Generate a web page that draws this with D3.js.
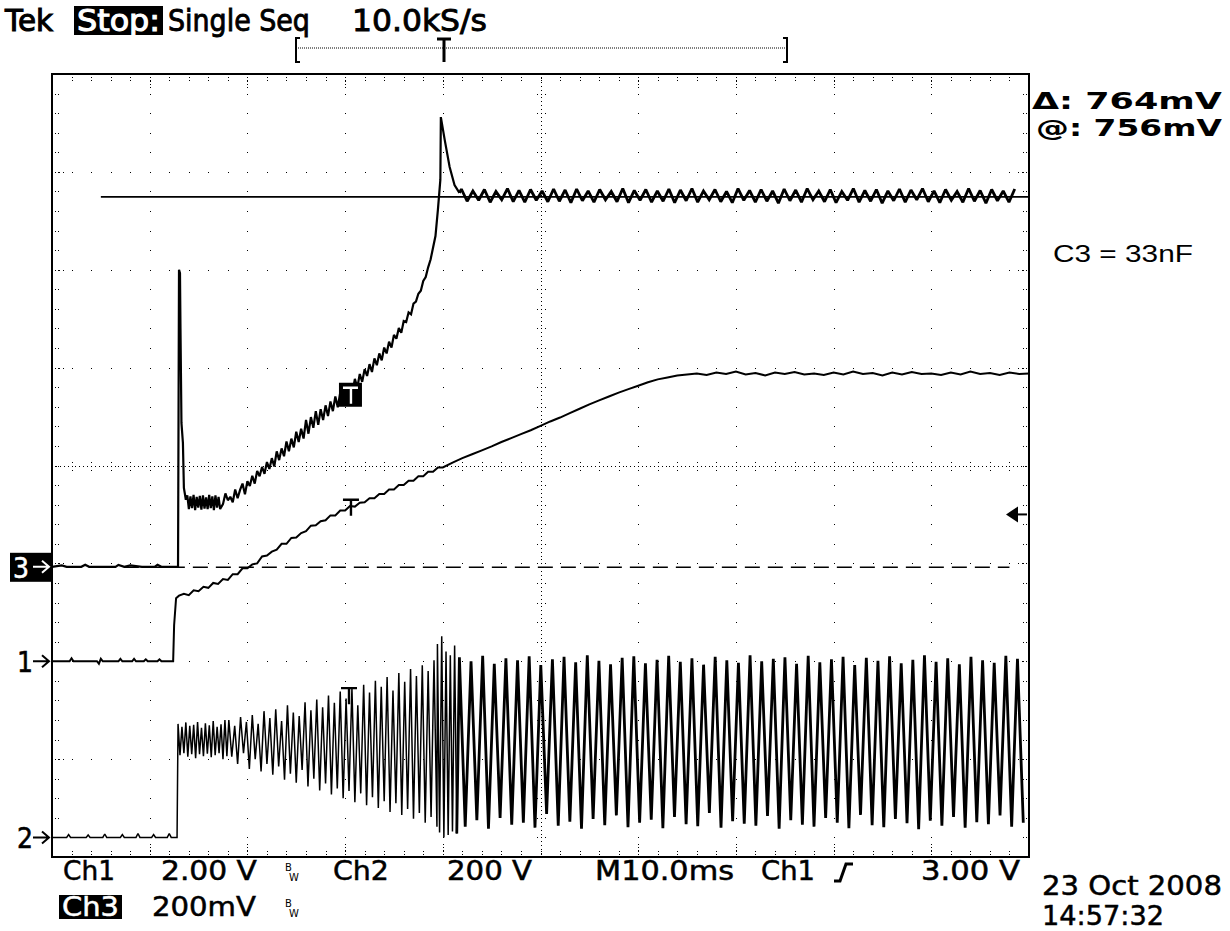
<!DOCTYPE html>
<html><head><meta charset="utf-8">
<script src="https://cdn.jsdelivr.net/npm/d3@7"></script>
<style>html,body{margin:0;padding:0;background:#fff;}svg{display:block;}</style>
</head><body>
<svg id="c" width="1230" height="931"></svg>
<script>
// ---------------- DATA ----------------
const timeDomainMs = [0, 100];          // 10 divisions x 10 ms
const divDomain = [-4, 4];              // 8 vertical divisions
const voltsPerDiv = {ch1: 2, ch2: 200, ch3: 200}; // V, V, mV
const groundDiv = {ch1: -2.0, ch2: -3.80, ch3: -1.035};
const triggerLevelV = 3.0;
const cursorLevelsMv = [756, -1];

// Ch1 (V) [ms, V]
const ch1 = [[0,0],[1.8,0],[2,0.06],[2.2,0],[4.6,0],[4.8,-0.05],[5,0.05],[5.2,0],[6.8,0],[7,0.05],[7.2,0],
 [8.2,0],[8.4,0.05],[8.6,0],[9.4,0],[9.6,0.04],[9.8,0],[10.8,0],[11,0.04],[11.2,0],[12.4,0],
 [12.5,0.74],[12.7,1.29],[13,1.34],[13.5,1.38],[14,1.35],[14.5,1.45],[15,1.43],[15.5,1.52],[16,1.5],[16.5,1.6],
 [17,1.58],[17.5,1.68],[18,1.66],[18.5,1.78],[19,1.78],[19.5,1.9],[20,1.9],[20.5,1.98],[21,2.0],[21.5,2.14],
 [22,2.16],[22.5,2.24],[23,2.28],[23.5,2.4],[24,2.4],[24.5,2.52],[25,2.53],[25.5,2.62],[26,2.66],[26.5,2.77],
 [27,2.78],[27.5,2.86],[28,2.88],[28.5,2.98],[29,2.98],[29.5,3.08],[30,3.08],[30.5,3.17],[31,3.16],[31.5,3.24],
 [32,3.25],[32.5,3.33],[33,3.33],[33.5,3.42],[34,3.42],[34.5,3.51],[35,3.51],[35.5,3.6],[36,3.6],[36.5,3.69],
 [37,3.69],[37.5,3.78],[38,3.78],[38.5,3.87],[39,3.87],[39.5,3.96],[40,3.96],[41,4.06],[42,4.15],[43,4.23],
 [44,4.31],[45,4.39],[46,4.48],[47,4.56],[48,4.64],[49,4.72],[50,4.81],[51,4.9],[52,4.98],[53,5.07],[54,5.16],
 [55,5.25],[56,5.33],[57,5.41],[58,5.49],[59,5.56],[60,5.63],[61,5.7],[62,5.76],[63,5.8],[64,5.84],[65,5.86],
 [66,5.88],[67,5.85],[68,5.9],[69,5.87],[70,5.92],[71,5.86],[72,5.89],[73,5.84],[74,5.9],[75,5.87],[76,5.91],
 [77,5.86],[78,5.88],[79,5.85],[80,5.9],[81,5.86],[82,5.92],[83,5.87],[84,5.89],[85,5.84],[86,5.9],[87,5.86],
 [88,5.91],[89,5.87],[90,5.88],[91,5.85],[92,5.9],[93,5.86],[94,5.92],[95,5.87],[96,5.89],[97,5.85],[98,5.9],
 [99,5.87],[100,5.88]];

// Ch3 (mV) [ms, mV]
const ch3Pre = [[0,0],[1,3],[1.5,0],[3,0],[3.4,4],[3.8,0],[6.5,0],[6.8,4],[7.4,0],[8,3],[9.2,0],[10.5,0],[10.8,4],[11.2,0],[12.9,0],
 [13.0,607],[13.1,600],[13.15,488],[13.25,294],[13.4,253],[13.5,161],[13.7,137]];
const ch3BandStartMs = 13.85, ch3BandStepMs = 0.16;
const ch3BandMv = [146,118,144,120,147,116,143,121,145,117,146,119,142,118,147,120,144,116,146,121,143,118];
const ch3RampStartMs = 17.5, ch3RampStepMs = 0.25;
const ch3RampMv = [128,150,136,
 143,132,158,140, 157,170,148,175, 165,186,170,196, 185,204,190,214, 200,222,205,236,
 218,242,226,256, 236,262,244,276, 255,282,262,300, 272,306,284,318, 290,322,300,330,
 308,338,318,348, 326,356,336,366, 346,374,356,384, 366,394,378,404, 390,414,398,426,
 412,436,422,448, 436,460,448,474, 466,488,478,502, 500,520,516,538, 542,558,564,584,
 592,612,628,652, 676,730,791];
const ch3Peak = [[39.8,919],[40.2,872],[40.7,817],[41.2,780],[41.7,764]];
const ch3RippleStartMs = 41.9, ch3RippleStepMs = 0.59;
const ch3RippleMv = [772,747,768,749,771,745,767,750,773,746,769,745,771,749,768,746,772,747,770,744,
 772,748,768,745,771,750,767,746,773,744,769,749,771,745,768,747,772,744,770,748,773,745,768,750,771,746,
 767,744,773,749,769,745,771,747,768,743,772,748,770,745,773,750,768,746,771,744,767,749,773,745,769,747,
 771,743,768,748,772,745,770,750,773,746,768,744,771,749,767,745,773,747,769,743,771,748,768,745,772];

// Ch2 (V)
const ch2Pre = [[0,0],[1.5,0],[1.7,6],[1.9,0],[3.5,0],[3.7,5],[3.9,0],[5.2,0],[5.4,7],[5.6,0],[7,0],[7.2,6],[7.4,0],
 [8.6,0],[8.8,8],[9,0],[10.2,0],[10.4,6],[10.6,0],[11.8,0],[12,8],[12.2,0],[12.8,0]];
const ch2BandStartMs = 12.9, ch2BandStepMs = 0.2;
const ch2BandV = [232,168,226,172,235,165,228,170,230,162,236,170,224,166,233,171,229,164,238,168,226,172,231,160,240,166];
const ch2GrowStartMs = 18.1, ch2GrowStepMs = 0.3;
const ch2GrowV = [240,165,228,150,246,172,236,140,250,160,232,135,258,150,244,128,
 262,145,238,118,270,130,255,112,248,138,276,104,260,120,282,96,
 266,110,290,88,275,100,298,80,284,95,305,72,270,90,312,66,
 296,82,320,60,308,74,328,52,300,70,336,46,318,58,344,38,
 330,50,352,30,340,42,362,22];
const ch2BurstStartMs = 39.45, ch2BurstStepMs = 0.22;
const ch2BurstV = [395,10,411,0,380,5,372,12,392,8];
const ch2SteadyStartMs = 41.7, ch2SteadyStepMs = 0.595;
const ch2SteadyV = [368,22,360,35,371,18,355,40,366,26,362,30,370,20,352,48,364,24,369,32,
 358,18,372,38,361,25,354,45,367,21,370,30,356,36,363,19,371,42,359,27,
 366,23,353,50,369,20,362,33,357,28,372,24,360,44,365,18,368,35,355,26,
 371,22,358,40,364,30,369,19,352,46,367,25,361,21,370,38,356,29,363,17,
 372,34,359,24,366,42,354,20,369,31,362,27,357,45,371,22,365,30];

// trigger markers on traces (ms, channel value)
const traceMarkers = [{ch:"ch1", t:30.6, v:3.3}, {ch:"ch2", t:30.4, v:305}];
const ch3Marker = {t: 30.6, v: 372};

// readout texts
const topLabels = ["Tek", "Stop:", "Single Seq", "10.0kS/s"];
const bottomRow1 = ["Ch1", "2.00 V", "Ch2", "200 V", "M10.0ms", "Ch1", "3.00 V"];
const bottomRow2 = ["Ch3", "200mV"];
const dateLabels = ["23 Oct 2008", "14:57:32"];
const cursorLabels = ["\u0394: 764mV", "@: 756mV"];
const noteLabel = "C3 = 33nF";

// ---------------- DRAW ----------------
const svg = d3.select("#c");
const L = 52, R = 1029, T = 74, B = 857;
const x = d3.scaleLinear().domain(timeDomainMs).range([L, R]);
const yd = d3.scaleLinear().domain(divDomain).range([B, T]);
const ych = ch => v => yd(groundDiv[ch] + v / voltsPerDiv[ch]);
const y1 = ych("ch1"), y2 = ych("ch2"), y3 = ych("ch3");
const yBy = {ch1: y1, ch2: y2, ch3: y3};
const seg = (s, st, vals) => vals.map((v, i) => [s + i * st, v]);

const g = svg.append("g");
// graticule
const minorX = d3.range(0, 100.001, 2), minorY = d3.range(-4, 4.001, 0.2);
const dot = (px, py) => g.append("rect").attr("x", Math.round(px)).attr("y", Math.round(py)).attr("width", 1).attr("height", 1).attr("fill", "#000");
d3.range(10, 100, 10).filter(t => t !== 50).forEach(t => {
  minorY.forEach(v => dot(x(t), yd(v)));
  [3, 7, 10, 13].forEach(o => { dot(x(t), T + o); dot(x(t), B - o); });
});
d3.range(-3, 4, 1).filter(v => v !== 0).forEach(v => {
  minorX.forEach(t => dot(x(t), yd(v)));
  [3, 7, 11].forEach(o => { dot(L + o, yd(v)); dot(R - o, yd(v)); });
});
minorX.forEach(t => { [3, 6].forEach(o => { dot(x(t), T + o); dot(x(t), B - o); }); });
minorY.forEach(v => { [3, 6].forEach(o => { dot(L + o, yd(v)); dot(R - o, yd(v)); }); });
d3.range(0, 100.001, 0.4).forEach(t => dot(x(t), yd(0)));
d3.range(-4, 4.001, 0.04).forEach(v => dot(x(50), yd(v)));
minorX.forEach(t => [-4, 4].forEach(o => dot(x(t), yd(0) + o)));
minorY.forEach(v => [-4, 4].forEach(o => dot(x(50) + o, yd(v))));
g.append("rect").attr("x", L).attr("y", T).attr("width", R - L).attr("height", B - T)
  .attr("fill", "none").attr("stroke", "#000").attr("stroke-width", 2);

// cursors (on ch3)
g.append("line").attr("x1", x(5)).attr("x2", R).attr("y1", y3(cursorLevelsMv[0])).attr("y2", y3(cursorLevelsMv[0]))
  .attr("stroke", "#000").attr("stroke-width", 1.6);
g.append("line").attr("x1", x(5)).attr("x2", x(98)).attr("y1", y3(cursorLevelsMv[1])).attr("y2", y3(cursorLevelsMv[1]))
  .attr("stroke", "#000").attr("stroke-width", 1.6).attr("stroke-dasharray", "15,8");

// traces
const line = (yf) => d3.line().x(d => x(d[0])).y(d => yf(d[1]));
const tr = svg.append("g").attr("fill", "none").attr("stroke", "#000").attr("stroke-linejoin", "miter").attr("stroke-miterlimit", 2);
tr.append("path").attr("d", line(y1)(ch1)).attr("stroke-width", 2);
const ch3All = ch3Pre.concat(seg(ch3BandStartMs, ch3BandStepMs, ch3BandMv), seg(ch3RampStartMs, ch3RampStepMs, ch3RampMv), ch3Peak);
tr.append("path").attr("d", line(y3)(ch3All)).attr("stroke-width", 2.2);
const ch3Rip = [ch3Peak[ch3Peak.length - 1]].concat(seg(ch3RippleStartMs, ch3RippleStepMs, ch3RippleMv));
tr.append("path").attr("d", line(y3)(ch3Rip)).attr("stroke-width", 2.8);
const ch2A = ch2Pre.concat(seg(ch2BandStartMs, ch2BandStepMs, ch2BandV), seg(ch2GrowStartMs, ch2GrowStepMs, ch2GrowV),
  seg(ch2BurstStartMs, ch2BurstStepMs, ch2BurstV));
tr.append("path").attr("d", line(y2)(ch2A)).attr("stroke-width", 1.5);
const ch2S = [ch2A[ch2A.length - 1]].concat(seg(ch2SteadyStartMs, ch2SteadyStepMs, ch2SteadyV));
tr.append("path").attr("d", line(y2)(ch2S)).attr("stroke-width", 2.8);

// T markers on traces
traceMarkers.forEach(m => {
  const px = x(m.t), py = yBy[m.ch](m.v);
  svg.append("path").attr("d", `M${px - 8},${py}L${px + 8},${py}M${px},${py}L${px},${py + 16}`).attr("stroke", "#000").attr("stroke-width", 2.4).attr("fill", "none");
});
{
  const px = x(ch3Marker.t), py = y3(ch3Marker.v);
  svg.append("rect").attr("x", px - 12).attr("y", py - 2).attr("width", 23).attr("height", 24).attr("fill", "#000");
  svg.append("path").attr("d", `M${px - 8},${py + 3}L${px + 7},${py + 3}M${px},${py + 3}L${px},${py + 19}`).attr("stroke", "#fff").attr("stroke-width", 2.4).attr("fill", "none");
}

// ---------------- TEXT ----------------
const TF = "DejaVu Sans, sans-serif";
// fit a text to [x0, x0+w] by horizontal scaling
const txt = (s, px, py, w, size, opt = {}) => {
  const gg = svg.append("g");
  const t = gg.append("text").attr("x", 0).attr("y", 0).attr("font-family", opt.family || TF)
    .attr("font-weight", opt.weight || "normal").attr("font-size", size).attr("fill", opt.fill || "#000").text(s);
  if (opt.sw) t.attr("stroke", opt.fill || "#000").attr("stroke-width", opt.sw);
  const n = t.node().getComputedTextLength() || w;
  gg.attr("transform", `translate(${px},${py}) scale(${w / n},1)`);
  return t;
};

// channel ground markers
const mk = (ch, label, inv) => {
  const yy = yBy[ch](0);
  if (inv) svg.append("rect").attr("x", 10).attr("y", yy - 14).attr("width", 43).attr("height", 29).attr("fill", "#000");
  const col = inv ? "#fff" : "#000";
  txt(label, inv ? 13 : 17, yy + 11, 16, 28, {fill: col, sw: 0.6});
  svg.append("path").attr("d", `M${33},${yy}L${48},${yy}M${42},${yy - 6}L${49},${yy}L${42},${yy + 6}`).attr("stroke", col).attr("stroke-width", 2).attr("fill", "none");
};
mk("ch3", "3", true); mk("ch1", "1", false); mk("ch2", "2", false);
{
  const yy = y1(triggerLevelV);
  svg.append("path").attr("d", `M${1006},${yy}L${1018},${yy - 8}L${1018},${yy + 8}Z`).attr("fill", "#000");
  svg.append("line").attr("x1", 1016).attr("x2", 1027).attr("y1", yy).attr("y2", yy).attr("stroke", "#000").attr("stroke-width", 2);
}

txt(topLabels[0], 5, 31, 48, 30, {sw: 1.1});
svg.append("rect").attr("x", 74).attr("y", 6).attr("width", 89).attr("height", 29).attr("fill", "#000");
txt(topLabels[1], 77, 31, 83, 30, {fill: "#fff", sw: 1.1});
txt(topLabels[2], 168, 31, 142, 30, {sw: 0.9});
txt(topLabels[3], 352, 31, 135, 30, {sw: 0.9});
// record bracket
svg.append("path").attr("d", "M300,38L296,38L296,62L300,62M783,38L787,38L787,62L783,62").attr("stroke", "#000").attr("stroke-width", 2).attr("fill", "none");
svg.append("line").attr("x1", 298).attr("x2", 786).attr("y1", 48).attr("y2", 48).attr("stroke", "#000").attr("stroke-dasharray", "1,1");
svg.append("path").attr("d", "M437,39L451,39M444,39L444,62").attr("stroke", "#000").attr("stroke-width", 3).attr("fill", "none");

// bottom readouts
const bo = {sw: 0.5};
const row1X = [[63, 52], [161, 96], [333, 56], [447, 85], [595, 139], [761, 54], [921, 99]];
bottomRow1.forEach((s, i) => txt(s, row1X[i][0], 880, row1X[i][1], 26, bo));
svg.append("path").attr("d", "M834,881L840,881L846,864L853,864").attr("stroke", "#000").attr("stroke-width", 3).attr("fill", "none");
svg.append("rect").attr("x", 59).attr("y", 895).attr("width", 63).attr("height", 24).attr("fill", "#000");
txt(bottomRow2[0], 62, 916, 57, 26, {fill: "#fff", sw: 0.5});
txt(bottomRow2[1], 152, 916, 104, 26, bo);
txt(dateLabels[0], 1042, 895, 180, 27, bo);
txt(dateLabels[1], 1042, 925, 122, 26, bo);
[[285, 871], [285, 907]].forEach(([bx, by1]) => {
  svg.append("text").attr("x", bx).attr("y", by1).attr("font-family", TF).attr("font-size", 10).text("B");
  svg.append("text").attr("x", bx + 4).attr("y", by1 + 10).attr("font-family", TF).attr("font-size", 10).text("W");
});
// cursor readout
txt(cursorLabels[0], 1032, 109, 190, 23, {weight: "bold"});
txt(cursorLabels[1], 1036, 136, 186, 23, {weight: "bold"});
txt(noteLabel, 1053, 262, 140, 23, {family: "Liberation Sans, Arial, sans-serif"});
</script>
</body></html>
